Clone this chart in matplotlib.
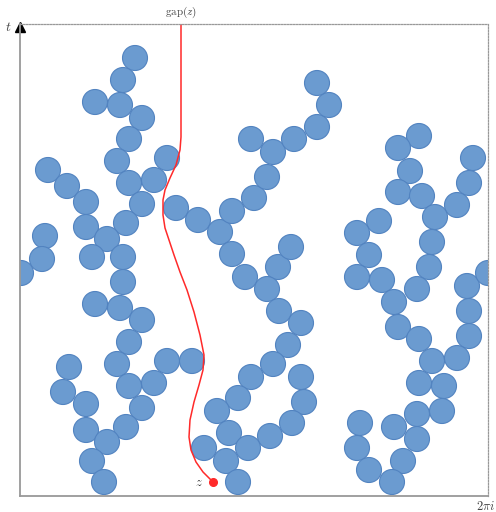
import matplotlib
matplotlib.use("Agg")
import matplotlib.pyplot as plt
from matplotlib.patches import Circle

plt.rcParams['mathtext.fontset'] = 'cm'

# disc centres (x to the right, t counted downwards from top edge)
disc_x = [135, 123, 95, 120, 142, 129, 117, 167, 48, 129, 154, 67, 86, 142, 86, 126, 107, 45,
          42, 92, 123, 21, 123, 95, 120, 142, 129, 117, 167, 192, 69, 129, 154, 63, 86, 142,
          86, 126, 107, 92, 104,
          176, 198, 220, 232, 232, 254, 267, 273, 251, 294, 317, 329, 317, 245, 278, 291,
          267, 279, 301, 288, 273, 251, 301, 238, 304, 217, 292, 270, 229, 248, 204, 226, 238,
          419, 398, 410, 473, 398, 422, 469, 457, 435, 379, 357, 369, 432, 357, 382, 429, 417,
          394, 467, 488, 469, 398, 419, 469, 432, 457, 419, 444, 417, 442, 360, 394, 417, 357,
          403, 369, 392]
disc_y = [58, 80, 102, 105, 118, 139, 161, 158, 170, 183, 180, 186, 202, 204, 227, 223, 239, 236,
          259, 257, 257, 273, 282, 304, 308, 320, 342, 364, 361, 361, 367, 386, 383, 392, 404, 408,
          430, 427, 442, 461, 482,
          208, 220, 232, 211, 254, 198, 177, 152, 139, 139, 127, 105, 83, 277, 267, 247,
          289, 311, 323, 345, 364, 377, 377, 398, 402, 411, 423, 436, 433, 448, 448, 461, 482,
          136, 148, 171, 158, 192, 196, 183, 205, 217, 221, 233, 255, 242, 277, 280, 267, 289,
          302, 286, 273, 311, 327, 339, 336, 361, 358, 383, 386, 414, 411, 423, 427, 439, 448,
          461, 470, 482]
disc_r = 12.5

# the gap path from z up to the top edge
gap_x = [213, 203, 196, 191, 189, 190, 194, 199, 203, 204, 200, 194, 187, 180, 174, 169, 165,
         163, 163, 165, 170, 176, 180, 181, 181]
gap_y = [482, 472, 462, 450, 437, 420, 402, 385, 370, 355, 335, 312, 290, 272, 255, 240, 228,
         215, 200, 190, 178, 165, 150, 137, 24]

x0, x1 = 20, 488
y_top, y_bot = 24, 496

fig = plt.figure(figsize=(4.96, 5.12), dpi=100)
ax = fig.add_axes([x0 / 496, (512 - y_bot) / 512, (x1 - x0) / 496, (y_bot - y_top) / 512])
ax.set_xlim(x0, x1)
ax.set_ylim(y_bot, y_top)
ax.set_xticks([])
ax.set_yticks([])

for cx, cy in zip(disc_x, disc_y):
    ax.add_patch(Circle((cx, cy), disc_r, facecolor='#6b9bd0', edgecolor='#5283c0',
                        linewidth=0.8))

ax.plot(gap_x, gap_y, color='#ff2a2a', linewidth=1.1)
ax.plot([gap_x[0]], [gap_y[0]], 'o', color='#ff2a2a', markersize=5.5)

for side in ['left', 'bottom']:
    ax.spines[side].set_color('#999999')
    ax.spines[side].set_linewidth(1.3)
for side in ['top', 'right']:
    ax.spines[side].set_color('#999999')
    ax.spines[side].set_linewidth(0.9)
    ax.spines[side].set_linestyle((0, (1.2, 1.2)))

ax.plot([x0], [y_top + 3], marker='^', color='black', markersize=7, clip_on=False)

ax.text(8, 27, r'$t$', fontsize=10, color='#444444', ha='center', va='center')
ax.text(181, 12, r'$\mathrm{gap}(z)$', fontsize=8, color='#444444', ha='center', va='center')
ax.text(495, 507, r'$2\pi i$', fontsize=9, color='#444444', ha='right', va='center')
ax.text(199, 483, r'$z$', fontsize=9, color='#333333', ha='center', va='center')

fig.savefig('out.png', dpi=100)
